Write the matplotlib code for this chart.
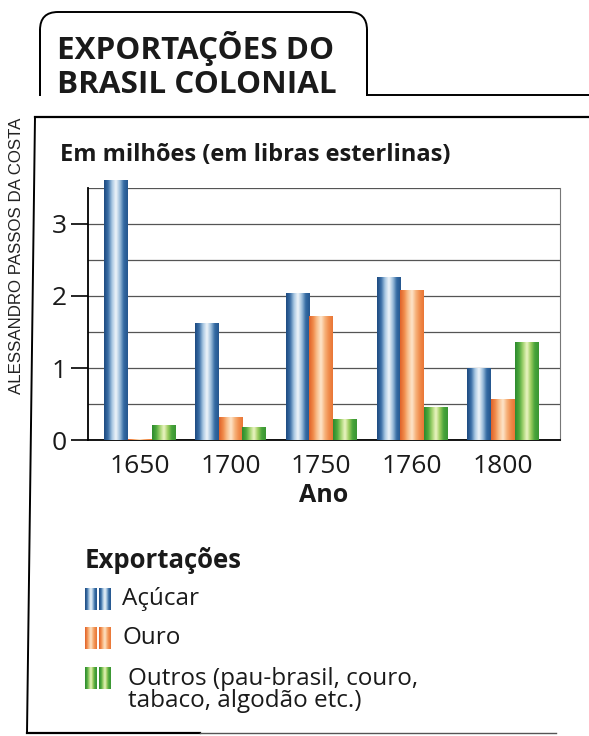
import numpy as np
import matplotlib
matplotlib.use("Agg")
from matplotlib import pyplot as plt
from matplotlib.colors import LinearSegmentedColormap
from matplotlib.patches import FancyBboxPatch

# dados (milhoes de libras esterlinas)
anos = ["1650", "1700", "1750", "1760", "1800"]
acucar = [3.6, 1.62, 2.04, 2.25, 1.0]
ouro = [0.01, 0.31, 1.72, 2.07, 0.56]
outros = [0.20, 0.18, 0.29, 0.45, 1.36]
series_names = ["Açúcar", "Ouro", "Outros (pau-brasil, couro,\ntabaco, algodão etc.)"]

# gradientes "cilindro" de cada serie
cmaps = [
    LinearSegmentedColormap.from_list("azul", ["#1d4a80", "#3a6ea6", "#a9c8e2", "#f2f7fb", "#9dbedb", "#336aa3", "#25568e"]),
    LinearSegmentedColormap.from_list("laranja", ["#e0622a", "#f08a4a", "#f9c08e", "#fde6cc", "#f7b27a", "#f08c4c", "#e97636"]),
    LinearSegmentedColormap.from_list("verde", ["#2d8a2e", "#4da83c", "#a3d36f", "#eef6c6", "#9ccc5e", "#47a33a", "#3a9634"]),
]
grad = np.linspace(0, 1, 64).reshape(1, -1)
grad_leg = np.linspace(0, 0.45, 32).reshape(1, -1)

font = "Open Sans"
txt = "#1a1a1a"
fig = plt.figure(figsize=(5.89, 7.36), dpi=100)

# camada de fundo em pixels para molduras e textos
bg = fig.add_axes([0, 0, 1, 1])
bg.set_xlim(0, 589)
bg.set_ylim(736, 0)
bg.axis("off")

# caixa do titulo com canto arredondado
box = FancyBboxPatch((40, 12), 327, 120, boxstyle="round,pad=0,rounding_size=18",
                     fc="none", ec="black", lw=1.4)
bg.add_patch(box)
bg.fill_between([38, 369], 96, 140, color="white", zorder=2)
bg.plot([40, 40], [30, 95], color="black", lw=1.4, zorder=3)
bg.plot([367, 367], [30, 95], color="black", lw=1.4, zorder=3)
bg.plot([367, 589], [95, 95], color="black", lw=1.4, zorder=3)
# moldura do grafico
bg.plot([35, 589], [117, 117], color="black", lw=1.6, zorder=3)
bg.plot([35, 27], [117, 733], color="black", lw=1.4, zorder=3)
bg.plot([27, 200], [733, 733], color="black", lw=1.6, zorder=3)
bg.plot([200, 556], [733, 733], color="#555555", lw=1.0, zorder=3)

bg.text(57, 59, "EXPORTAÇÕES DO", fontsize=22.6, fontweight="bold",
        family=font, va="baseline", ha="left", zorder=4, color=txt)
bg.text(57, 93, "BRASIL COLONIAL", fontsize=22.6, fontweight="bold",
        family=font, va="baseline", ha="left", zorder=4, color=txt)
bg.text(17, 256, "ALESSANDRO PASSOS DA COSTA", rotation=90, fontsize=12.2,
        family="Liberation Sans", ha="center", va="center", color="#222")
bg.text(60, 155, "Em milhões (em libras esterlinas)", fontsize=17, fontweight="bold",
        family=font, ha="left", va="center", color=txt)

# eixo das barras
ax = fig.add_axes([88 / 589, 1 - 440 / 736, 472 / 589, 252 / 736])
x = np.arange(len(anos))
w = 0.26
for i, vals in enumerate([acucar, ouro, outros]):
    bars = ax.bar(x + (i - 1) * w, vals, w, color="none", edgecolor="none", zorder=3)
    for b in bars:
        x0 = b.get_x()
        ax.imshow(grad, cmap=cmaps[i], extent=[x0, x0 + b.get_width(), 0, b.get_height()],
                  aspect="auto", zorder=3, clip_on=False, interpolation="bicubic")

ax.set_xlim(-0.57, 4.63)
ax.set_ylim(0, 3.5)
ax.set_yticks([0, 1, 2, 3])
ax.set_yticks(np.arange(0, 3.6, 0.5), minor=True)
ax.grid(axis="y", which="both", color="#555555", lw=0.9, zorder=0)
ax.set_axisbelow(True)
ax.set_xticks(x)
ax.set_xticklabels(anos, family=font, fontsize=19, color=txt)
ax.set_yticklabels(["0", "1", "2", "3"], family=font, fontsize=19, color=txt)
ax.tick_params(axis="x", length=0, pad=10)
ax.tick_params(axis="y", which="major", length=12, width=1.2, pad=3)
ax.tick_params(axis="y", which="minor", length=0)
ax.spines["top"].set_visible(False)
ax.spines["right"].set_color("#777777")
ax.spines["right"].set_linewidth(0.8)
ax.spines["left"].set_linewidth(1.3)
ax.spines["bottom"].set_linewidth(1.3)
ax.set_xlabel("Ano", family=font, fontsize=18, fontweight="bold", labelpad=3, color=txt)

# legenda manual
bg.text(85, 561, "Exportações", fontsize=18.5, fontweight="bold", family=font,
        ha="left", va="center", color=txt)
leg_y = [599, 638, 678]
for i, name in enumerate(series_names):
    y0 = leg_y[i] - 11
    for sx in (85, 99):
        bg.imshow(grad_leg, cmap=cmaps[i], extent=[sx, sx + 12, y0 + 22, y0],
                  aspect="auto", zorder=3, interpolation="bicubic")
    ty = leg_y[i] if i < 2 else leg_y[i] + 12
    bg.text(122 if i < 2 else 128, ty, name, fontsize=17.5, family=font, ha="left",
            va="center", linespacing=0.9, color=txt)
bg.set_xlim(0, 589)
bg.set_ylim(736, 0)

fig.savefig("out.png", dpi=100)
